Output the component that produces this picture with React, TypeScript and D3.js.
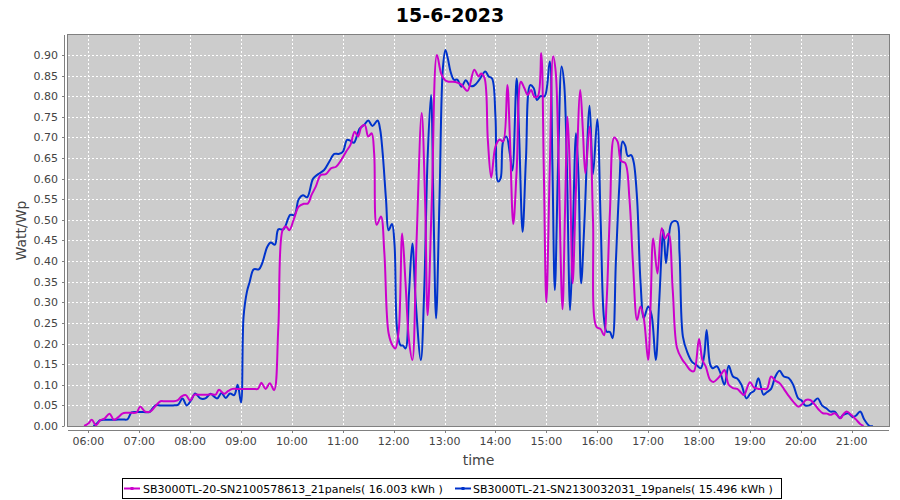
import React from "react";
import * as d3 from "d3";

const title = "15-6-2023";
const xAxisLabel = "time";
const yAxisLabel = "Watt/Wp";
const xTickLabels = ["06:00","07:00","08:00","09:00","10:00","11:00","12:00","13:00","14:00","15:00","16:00","17:00","18:00","19:00","20:00","21:00"];
const yTicks = [0,0.05,0.1,0.15,0.2,0.25,0.3,0.35,0.4,0.45,0.5,0.55,0.6,0.65,0.7,0.75,0.8,0.85,0.9];
const seriesNames = [
  "SB3000TL-20-SN2100578613_21panels( 16.003 kWh )",
  "SB3000TL-21-SN2130032031_19panels( 15.496 kWh )",
];
const seriesColors = ["#cc00cc", "#0033cc"];

const magentaSeries: [string, number][] = [
  ["05:55",0.0],["06:00",0.006],["06:04",0.015],["06:09",0.002],["06:14",0.014],["06:19",0.018],["06:25",0.03],["06:30",0.015],["06:35",0.021],["06:40",0.03],["06:45",0.032],["06:50",0.032],["06:57",0.033],["07:01",0.047],["07:07",0.035],["07:13",0.035],["07:19",0.048],["07:25",0.06],["07:30",0.06],["07:35",0.06],["07:40",0.06],["07:45",0.062],["07:50",0.072],["07:55",0.075],["08:00",0.062],["08:05",0.076],["08:10",0.076],["08:15",0.076],["08:20",0.076],["08:25",0.077],["08:30",0.076],["08:34",0.088],["08:40",0.078],["08:45",0.085],["08:50",0.09],["08:55",0.09],["09:00",0.09],["09:05",0.09],["09:10",0.09],["09:15",0.09],["09:20",0.09],["09:24",0.105],["09:29",0.09],["09:34",0.104],["09:39",0.087],["09:44",0.24],["09:49",0.475],["09:53",0.484],["09:57",0.475],["10:02",0.5],["10:08",0.532],["10:14",0.539],["10:19",0.54],["10:23",0.56],["10:28",0.58],["10:34",0.609],["10:40",0.611],["10:46",0.625],["10:52",0.629],["10:58",0.645],["11:04",0.666],["11:09",0.682],["11:14",0.714],["11:18",0.702],["11:22",0.726],["11:26",0.73],["11:30",0.702],["11:34",0.71],["11:37",0.66],["11:40",0.488],["11:45",0.508],["11:49",0.42],["11:54",0.225],["11:59",0.194],["12:02",0.188],["12:06",0.233],["12:10",0.467],["12:14",0.346],["12:18",0.209],["12:22",0.16],["12:27",0.45],["12:33",0.759],["12:37",0.55],["12:40",0.269],["12:45",0.55],["12:51",0.9],["12:56",0.855],["13:01",0.838],["13:05",0.835],["13:10",0.835],["13:15",0.833],["13:20",0.828],["13:27",0.813],["13:35",0.864],["13:40",0.848],["13:43",0.855],["13:47",0.845],["13:51",0.694],["13:55",0.603],["14:00",0.678],["14:05",0.695],["14:09",0.69],["14:14",0.827],["14:17",0.7],["14:21",0.49],["14:25",0.62],["14:30",0.835],["14:34",0.82],["14:38",0.803],["14:42",0.815],["14:46",0.798],["14:50",0.8],["14:54",0.904],["14:57",0.62],["15:00",0.3],["15:04",0.62],["15:08",0.897],["15:11",0.86],["15:14",0.68],["15:19",0.283],["15:22",0.52],["15:25",0.75],["15:28",0.6],["15:31",0.346],["15:35",0.58],["15:40",0.815],["15:43",0.72],["15:46",0.613],["15:51",0.726],["15:55",0.5],["15:59",0.241],["16:04",0.235],["16:08",0.22],["16:11",0.3],["16:15",0.52],["16:20",0.7],["16:24",0.69],["16:28",0.643],["16:33",0.638],["16:38",0.55],["16:42",0.4],["16:47",0.257],["16:51",0.29],["16:55",0.26],["17:00",0.16],["17:03",0.3],["17:06",0.455],["17:11",0.37],["17:16",0.48],["17:20",0.455],["17:24",0.467],["17:29",0.33],["17:34",0.19],["17:40",0.162],["17:45",0.148],["17:50",0.135],["17:54",0.133],["18:00",0.211],["18:04",0.16],["18:08",0.144],["18:13",0.112],["18:17",0.107],["18:22",0.115],["18:26",0.125],["18:30",0.136],["18:35",0.1],["18:40",0.092],["18:45",0.09],["18:50",0.08],["18:53",0.075],["19:00",0.106],["19:05",0.093],["19:10",0.09],["19:15",0.09],["19:20",0.09],["19:25",0.12],["19:30",0.11],["19:35",0.104],["19:40",0.09],["19:45",0.075],["19:51",0.059],["19:57",0.047],["20:01",0.052],["20:06",0.063],["20:11",0.063],["20:16",0.053],["20:21",0.04],["20:26",0.031],["20:31",0.03],["20:35",0.027],["20:40",0.031],["20:47",0.019],["20:50",0.028],["20:54",0.035],["21:00",0.026],["21:05",0.016],["21:10",0.005],["21:14",0.0]
];

const blueSeries: [string, number][] = [
  ["06:06",0.0],["06:10",0.006],["06:14",0.014],["06:20",0.015],["06:30",0.015],["06:40",0.016],["06:46",0.016],["06:51",0.033],["06:57",0.034],["07:05",0.034],["07:12",0.034],["07:19",0.05],["07:25",0.05],["07:32",0.05],["07:40",0.05],["07:46",0.052],["07:51",0.067],["07:56",0.05],["08:01",0.062],["08:06",0.079],["08:12",0.067],["08:18",0.067],["08:24",0.078],["08:28",0.072],["08:32",0.067],["08:37",0.08],["08:42",0.068],["08:47",0.079],["08:52",0.075],["08:56",0.1],["09:00",0.057],["09:03",0.265],["09:07",0.326],["09:10",0.348],["09:15",0.38],["09:21",0.38],["09:25",0.395],["09:31",0.435],["09:35",0.445],["09:40",0.44],["09:44",0.477],["09:50",0.477],["09:58",0.512],["10:03",0.512],["10:08",0.55],["10:13",0.56],["10:18",0.555],["10:25",0.6],["10:31",0.611],["10:38",0.621],["10:44",0.641],["10:50",0.66],["10:55",0.66],["11:00",0.665],["11:05",0.694],["11:09",0.692],["11:13",0.687],["11:20",0.722],["11:25",0.73],["11:30",0.741],["11:35",0.728],["11:41",0.741],["11:44",0.72],["11:47",0.662],["11:51",0.548],["11:54",0.475],["11:58",0.49],["12:01",0.44],["12:04",0.235],["12:08",0.196],["12:11",0.195],["12:14",0.188],["12:18",0.32],["12:22",0.443],["12:26",0.3],["12:32",0.16],["12:36",0.33],["12:40",0.65],["12:44",0.803],["12:47",0.52],["12:50",0.261],["12:54",0.55],["12:58",0.868],["13:01",0.912],["13:04",0.89],["13:07",0.86],["13:11",0.84],["13:15",0.84],["13:20",0.823],["13:25",0.839],["13:30",0.825],["13:35",0.826],["13:41",0.84],["13:48",0.86],["13:52",0.848],["13:56",0.843],["14:00",0.75],["14:03",0.593],["14:06",0.6],["14:09",0.69],["14:13",0.702],["14:17",0.66],["14:20",0.62],["14:25",0.843],["14:28",0.7],["14:32",0.471],["14:36",0.65],["14:41",0.827],["14:45",0.82],["14:49",0.791],["14:53",0.8],["14:58",0.8],["15:04",0.884],["15:07",0.65],["15:10",0.33],["15:14",0.65],["15:18",0.872],["15:21",0.83],["15:24",0.65],["15:28",0.281],["15:31",0.45],["15:35",0.71],["15:38",0.6],["15:41",0.346],["15:45",0.5],["15:51",0.777],["15:55",0.611],["16:00",0.744],["16:04",0.5],["16:08",0.26],["16:11",0.229],["16:15",0.228],["16:18",0.213],["16:22",0.4],["16:26",0.58],["16:30",0.69],["16:33",0.68],["16:36",0.655],["16:40",0.657],["16:43",0.64],["16:47",0.55],["16:51",0.35],["16:55",0.262],["17:00",0.29],["17:04",0.27],["17:09",0.16],["17:13",0.3],["17:18",0.475],["17:21",0.395],["17:24",0.45],["17:28",0.494],["17:34",0.496],["17:37",0.42],["17:41",0.217],["17:46",0.18],["17:52",0.155],["17:57",0.148],["18:02",0.14],["18:06",0.17],["18:09",0.233],["18:13",0.15],["18:16",0.14],["18:21",0.145],["18:25",0.13],["18:30",0.1],["18:35",0.146],["18:40",0.12],["18:45",0.115],["18:50",0.1],["18:56",0.067],["19:01",0.08],["19:05",0.085],["19:10",0.116],["19:16",0.076],["19:20",0.082],["19:25",0.09],["19:30",0.12],["19:35",0.134],["19:40",0.12],["19:46",0.116],["19:51",0.1],["19:57",0.067],["20:01",0.062],["20:05",0.05],["20:10",0.05],["20:15",0.058],["20:20",0.067],["20:25",0.05],["20:30",0.043],["20:35",0.035],["20:40",0.035],["20:46",0.019],["20:50",0.027],["20:56",0.031],["21:01",0.022],["21:05",0.025],["21:10",0.035],["21:15",0.015],["21:21",0.0],["21:25",0.0]
];

const W = 900;
const H = 500;
const P = { left: 68, right: 889, top: 35, bottom: 426 };
const FONT = "'DejaVu Sans', sans-serif";

const toHours = (s: string) => {
  const [h, m] = s.split(":").map(Number);
  return h + m / 60;
};

export default function App() {
  const x = d3.scaleLinear().domain([toHours("05:36"), toHours("21:44")]).range([P.left, P.right]);
  const y = d3.scaleLinear().domain([0, 0.9485]).range([P.bottom, P.top]);
  const line = d3
    .line<[string, number]>()
    .x((d) => x(toHours(d[0])))
    .y((d) => y(d[1]))
    .curve(d3.curveCatmullRom.alpha(0.5));

  const series = [magentaSeries, blueSeries];
  const drawOrder = [1, 0];

  return (
    <svg width={W} height={H} style={{ position: "absolute", left: 0, top: 0, background: "#fff" }} fontFamily={FONT}>
      <defs>
        <clipPath id="plotClip">
          <rect x={P.left} y={P.top} width={P.right - P.left} height={P.bottom - P.top} />
        </clipPath>
      </defs>
      <text x={450} y={22} textAnchor="middle" fontSize={19} fontWeight="bold" fill="#000">{title}</text>

      <rect x={P.left} y={P.top} width={P.right - P.left} height={P.bottom - P.top} fill="#cccccc" />
      {xTickLabels.map((t) => (
        <line key={"gx" + t} x1={Math.round(x(toHours(t))) + 0.5} x2={Math.round(x(toHours(t))) + 0.5} y1={P.top} y2={P.bottom} stroke="#ffffff" strokeWidth={1} strokeDasharray="2,2" />
      ))}
      {yTicks.map((v) => (
        <line key={"gy" + v} x1={P.left} x2={P.right} y1={Math.round(y(v)) + 0.5} y2={Math.round(y(v)) + 0.5} stroke="#ffffff" strokeWidth={1} strokeDasharray="2,2" />
      ))}

      <g clipPath="url(#plotClip)">
        {drawOrder.map((i) => (
          <path key={"s" + i} d={line(series[i]) || ""} fill="none" stroke={seriesColors[i]} strokeWidth={2} strokeLinejoin="round" />
        ))}
      </g>
      <rect x={P.left - 0.5} y={P.top - 0.5} width={P.right - P.left + 1} height={P.bottom - P.top + 1} fill="none" stroke="#808080" strokeWidth={1} />

      {/* Y axis */}
      <line x1={64.5} x2={64.5} y1={P.top} y2={P.bottom} stroke="#808080" />
      {yTicks.map((v) => (
        <g key={"ty" + v}>
          <line x1={62} x2={64.5} y1={Math.round(y(v)) + 0.5} y2={Math.round(y(v)) + 0.5} stroke="#808080" />
          <text x={58} y={y(v) + 4} textAnchor="end" fontSize={11} fill="#444">{v.toFixed(2)}</text>
        </g>
      ))}
      <text transform={`translate(26,${(P.top + P.bottom) / 2}) rotate(-90)`} textAnchor="middle" fontSize={14} fill="#444">{yAxisLabel}</text>

      {/* X axis */}
      <line x1={P.left} x2={P.right} y1={430.5} y2={430.5} stroke="#808080" />
      {xTickLabels.map((t) => (
        <g key={"tx" + t}>
          <line x1={Math.round(x(toHours(t))) + 0.5} x2={Math.round(x(toHours(t))) + 0.5} y1={430.5} y2={433} stroke="#808080" />
          <text x={x(toHours(t))} y={445} textAnchor="middle" fontSize={11} fill="#444">{t}</text>
        </g>
      ))}
      <text x={(P.left + P.right) / 2} y={465} textAnchor="middle" fontSize={14} fill="#444">{xAxisLabel}</text>

      {/* Legend */}
      <rect x={122.5} y={478.5} width={659} height={20} fill="#fff" stroke="#000" />
      {[{ sx: 124, tx: 143 }, { sx: 455, tx: 473 }].map((p, i) => (
        <g key={"lg" + i}>
          <line x1={p.sx} x2={p.sx + 16} y1={488.5} y2={488.5} stroke={seriesColors[i]} strokeWidth={2} />
          <rect x={p.sx + 6.5} y={487} width={3} height={3} fill={seriesColors[i]} />
          <text x={p.tx} y={492.5} fontSize={11} fill="#000">{seriesNames[i]}</text>
        </g>
      ))}
    </svg>
  );
}
